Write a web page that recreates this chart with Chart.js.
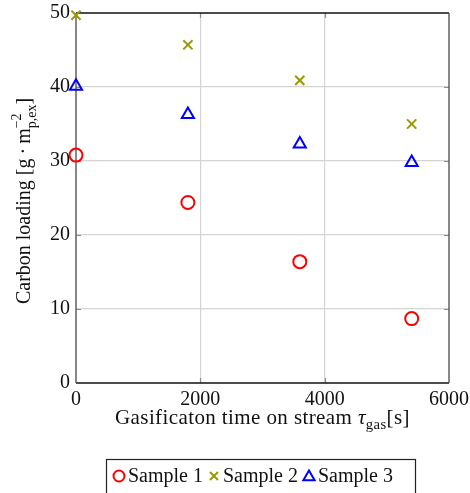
<!DOCTYPE html>
<html>
<head>
<meta charset="utf-8">
<script src="https://cdn.jsdelivr.net/npm/chart.js@4/dist/chart.umd.min.js"></script>
<style>
  html, body { margin: 0; padding: 0; background: #fff; }
  #wrap { width: 470px; height: 493px; position: relative; }
</style>
</head>
<body>
<div id="wrap"><canvas id="c"></canvas></div>
<script>
// Gasification time on stream [s]
const timesOnStream = [0, 1800, 3600, 5400];
// Carbon loading [g m^-2 p,ex]
const sample1 = [30.8, 24.4, 16.4, 8.7];
const sample2 = [49.7, 45.7, 40.9, 35.0];
const sample3 = [40.1, 36.3, 32.3, 29.8];
const seriesNames = ['Sample 1', 'Sample 2', 'Sample 3'];
const xTicks = [0, 2000, 4000, 6000];
const yTicks = [0, 10, 20, 30, 40, 50];

const FONT = "'Liberation Serif', 'DejaVu Serif', serif";
const RED = 'rgb(255,0,0)';
const OLIVE = 'rgb(153,153,0)';
const BLUE = 'rgb(0,0,255)';

function toPoints(ys) {
  return timesOnStream.map((t, i) => ({ x: t, y: ys[i] }));
}

function interiorGrid(ctx) {
  const s = ctx.scale;
  return (ctx.tick.value > s.min && ctx.tick.value < s.max) ? '#d4d4d4' : 'rgba(0,0,0,0)';
}

// Marker shapes used in the legend
function drawMarker(g, style, color, x, y) {
  g.save();
  g.strokeStyle = color;
  g.lineWidth = 2;
  g.beginPath();
  if (style === 'circle') {
    g.arc(x, y, 5.5, 0, Math.PI * 2);
  } else if (style === 'crossRot') {
    const d = 4;
    g.moveTo(x - d, y - d); g.lineTo(x + d, y + d);
    g.moveTo(x + d, y - d); g.lineTo(x - d, y + d);
  } else if (style === 'triangle') {
    const r = 6.5;
    for (let k = 0; k < 3; k++) {
      const a = k * 2 * Math.PI / 3;
      const px = x + Math.sin(a) * r, py = y - Math.cos(a) * r + 1;
      if (k === 0) g.moveTo(px, py); else g.lineTo(px, py);
    }
    g.closePath();
  }
  g.stroke();
  g.restore();
}

// Text runs with super/subscripts
function runWidth(g, size, parts) {
  let w = 0;
  for (const p of parts) {
    if (p.stack) {
      g.font = `${size * 0.7}px ${FONT}`;
      w += Math.max(g.measureText(p.sup).width, g.measureText(p.sub).width);
    } else {
      const fs = p.sub ? size * 0.7 : size;
      g.font = `${p.italic ? 'italic ' : ''}${fs}px ${FONT}`;
      w += g.measureText(p.t).width;
    }
  }
  return w;
}
function drawRun(g, size, parts, x, y) {
  for (const p of parts) {
    if (p.stack) {
      g.font = `${size * 0.7}px ${FONT}`;
      g.fillText(p.sup, x, y - size * 0.45);
      g.fillText(p.sub, x, y + size * 0.28);
      x += Math.max(g.measureText(p.sup).width, g.measureText(p.sub).width);
    } else {
      const fs = p.sub ? size * 0.7 : size;
      g.font = `${p.italic ? 'italic ' : ''}${fs}px ${FONT}`;
      g.fillText(p.t, x, y + (p.sub ? size * 0.22 : 0));
      x += g.measureText(p.t).width;
    }
  }
}

const decorPlugin = {
  id: 'decor',
  beforeDatasetsDraw(chart) {
    const g = chart.ctx;
    const a = chart.chartArea;
    const xs = chart.scales.x, ys = chart.scales.y;
    g.save();
    // inner tick marks
    g.strokeStyle = '#8c8c8c';
    g.lineWidth = 1.2;
    g.beginPath();
    for (const v of xTicks) {
      if (v <= xs.min || v >= xs.max) continue;
      const px = Math.round(xs.getPixelForValue(v)) + 0.5;
      g.moveTo(px, a.top); g.lineTo(px, a.top + 5);
      g.moveTo(px, a.bottom); g.lineTo(px, a.bottom - 5);
    }
    for (const v of yTicks) {
      if (v <= ys.min || v >= ys.max) continue;
      const py = Math.round(ys.getPixelForValue(v)) + 0.5;
      g.moveTo(a.left, py); g.lineTo(a.left + 5, py);
      g.moveTo(a.right, py); g.lineTo(a.right - 5, py);
    }
    g.stroke();
    // frame
    g.lineWidth = 1.4;
    g.strokeStyle = '#111';
    g.beginPath();
    g.moveTo(a.left, a.top); g.lineTo(a.right, a.top);
    g.moveTo(a.left, a.bottom); g.lineTo(a.right, a.bottom);
    g.stroke();
    g.strokeStyle = '#555';
    g.beginPath();
    g.moveTo(a.left, a.top); g.lineTo(a.left, a.bottom);
    g.moveTo(a.right, a.top); g.lineTo(a.right, a.bottom);
    g.stroke();
    g.restore();
  },
  afterDraw(chart) {
    const g = chart.ctx;
    const a = chart.chartArea;
    g.save();
    g.fillStyle = '#111';
    g.textBaseline = 'alphabetic';
    g.textAlign = 'left';
    const size = 20;

    // x axis title
    g.save();
    g.letterSpacing = '0.4px';
    const xParts = [{ t: 'Gasificaton time on stream ' }, { t: 'τ', italic: true }, { t: 'gas', sub: true }, { t: '[s]' }];
    const xw = runWidth(g, 21, xParts);
    drawRun(g, 21, xParts, (a.left + a.right) / 2 - xw / 2, a.bottom + 41);
    g.restore();

    // y axis title, rotated
    const yParts = [{ t: 'Carbon loading [g\u2009·\u2009m' }, { stack: true, sup: '−2', sub: 'p,ex' }, { t: ']' }];
    const yw = runWidth(g, size, yParts);
    g.save();
    g.translate(a.left - 46, (a.top + a.bottom) / 2 + 3);
    g.rotate(-Math.PI / 2);
    drawRun(g, size, yParts, -yw / 2, 0);
    g.restore();

    // legend
    const boxL = 106, boxT = 459, boxR = 415;
    g.strokeStyle = '#222';
    g.lineWidth = 1.2;
    g.strokeRect(boxL + 0.5, boxT + 0.5, boxR - boxL, 60);
    const styles = ['circle', 'crossRot', 'triangle'];
    const colors = [RED, OLIVE, BLUE];
    g.font = `${size}px ${FONT}`;
    let x = boxL + 6;
    const cy = boxT + 17;
    seriesNames.forEach((name, i) => {
      drawMarker(g, styles[i], colors[i], x + 7, cy);
      g.fillStyle = '#111';
      g.fillText(name, x + 16, cy + 6);
      x += 16 + g.measureText(name).width + 4;
    });
    g.restore();
  }
};

const tickFont = { family: FONT, size: 20 };

new Chart(document.getElementById('c'), {
  type: 'scatter',
  data: {
    datasets: [
      { label: seriesNames[0], data: toPoints(sample1), pointStyle: 'circle', pointRadius: 6.5, pointHoverRadius: 6.5,
        borderColor: RED, backgroundColor: 'rgba(0,0,0,0)', pointBorderWidth: 2, clip: false },
      { label: seriesNames[1], data: toPoints(sample2), pointStyle: 'crossRot', pointRadius: 6.5, pointHoverRadius: 6.5,
        borderColor: OLIVE, backgroundColor: 'rgba(0,0,0,0)', pointBorderWidth: 2, clip: false },
      { label: seriesNames[2], data: toPoints(sample3), pointStyle: 'triangle', pointRadius: 7, pointHoverRadius: 7,
        borderColor: BLUE, backgroundColor: 'rgba(0,0,0,0)', pointBorderWidth: 2, clip: false }
    ]
  },
  options: {
    responsive: true,
    maintainAspectRatio: false,
    animation: false,
    events: [],
    layout: { padding: { left: 0, top: 13, right: 21, bottom: 0 } },
    plugins: { legend: { display: false }, tooltip: { enabled: false } },
    scales: {
      x: {
        type: 'linear', min: 0, max: 6000,
        afterBuildTicks: s => { s.ticks = xTicks.map(v => ({ value: v })); },
        afterFit: s => { s.height = 110; s.paddingLeft = 0; s.paddingRight = 0; },
        ticks: { font: tickFont, color: '#111', padding: 5, maxRotation: 0, callback: v => String(v) },
        grid: { color: interiorGrid, lineWidth: 1.2, drawTicks: false },
        border: { display: false }
      },
      y: {
        type: 'linear', min: 0, max: 50,
        afterBuildTicks: s => { s.ticks = yTicks.map(v => ({ value: v })); },
        afterFit: s => { s.width = 76; s.paddingTop = 0; s.paddingBottom = 0; },
        ticks: { font: tickFont, color: '#111', padding: 6, callback: v => String(v) },
        grid: { color: interiorGrid, lineWidth: 1.2, drawTicks: false },
        border: { display: false }
      }
    }
  },
  plugins: [decorPlugin]
});
</script>
</body>
</html>
